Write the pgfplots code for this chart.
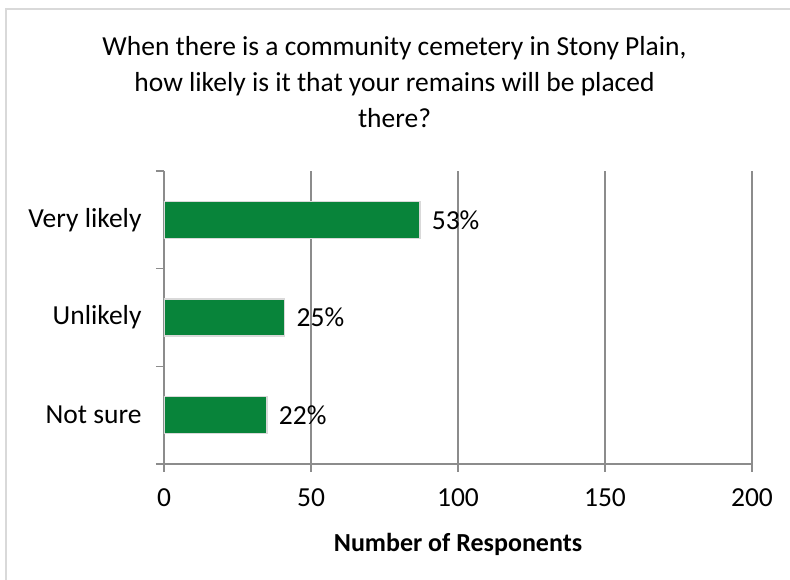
\documentclass[border=0pt]{standalone}
\usepackage{pgfplots}
\pgfplotsset{compat=1.18}
\usepackage{pgfplotstable}
\usepackage{fontspec}
\setmainfont{Carlito}
\definecolor{bargreen}{HTML}{08843A}
\definecolor{gridgray}{HTML}{8C8C8C}
\definecolor{framegray}{HTML}{D9D9D9}

\pgfplotstableread{
y count pct
0 35 22
1 41 25
2 87 53
}\responses

\begin{document}
\begin{tikzpicture}[x=1pt,y=1pt]
\useasboundingbox (-164,-116) rectangle (626,464);
\draw[framegray, line width=1.5pt] (-158,-130) -- (-158,455) -- (640,455);
\node[align=center, font=\fontsize{27.5}{36}\selectfont, anchor=north]
  at (230.5,431) {When there is a community cemetery in Stony Plain,\\how likely is it that your remains will be placed\\there?};
\begin{axis}[
    at={(0,0)}, anchor=south west,
    scale only axis,
    width=588pt, height=293pt,
    xbar, bar width=37pt,
    xmin=0, xmax=200,
    ymin=-0.5, ymax=2.5,
    xtick={0,50,...,200},
    ytick={0,1,2},
    yticklabels={Not sure,Unlikely,Very likely},
    minor ytick={-0.5,0.5,1.5,2.5},
    axis x line*=bottom,
    axis y line*=left,
    axis line style={gridgray, line width=1.5pt},
    tick align=outside,
    major tick length=8pt,
    minor tick length=8pt,
    tick style={gridgray, line width=1.5pt},
    every major y tick/.append style={draw=none},
    xmajorgrids,
    grid style={gridgray, line width=1.5pt},
    /pgf/number format/assume math mode=true,
    tick label style={font=\fontsize{27.5}{30}\selectfont, text=black},
    xticklabel style={yshift=-13pt},
    yticklabel style={xshift=-11pt},
    xlabel={\bfseries Number of Responents},
    xlabel style={font=\fontsize{26}{30}\selectfont, text=black, yshift=-20pt},
    point meta=explicit,
    nodes near coords={\pgfmathprintnumber{\pgfplotspointmeta}\%},
    nodes near coords align={horizontal},
    every node near coord/.append style={font=\fontsize{27.5}{30}\selectfont, text=black, xshift=8pt},
]
\addplot[fill=bargreen, draw=framegray, line width=1.5pt]
  table[x=count, y=y, meta=pct] {\responses};
\end{axis}
\end{tikzpicture}
\end{document}
